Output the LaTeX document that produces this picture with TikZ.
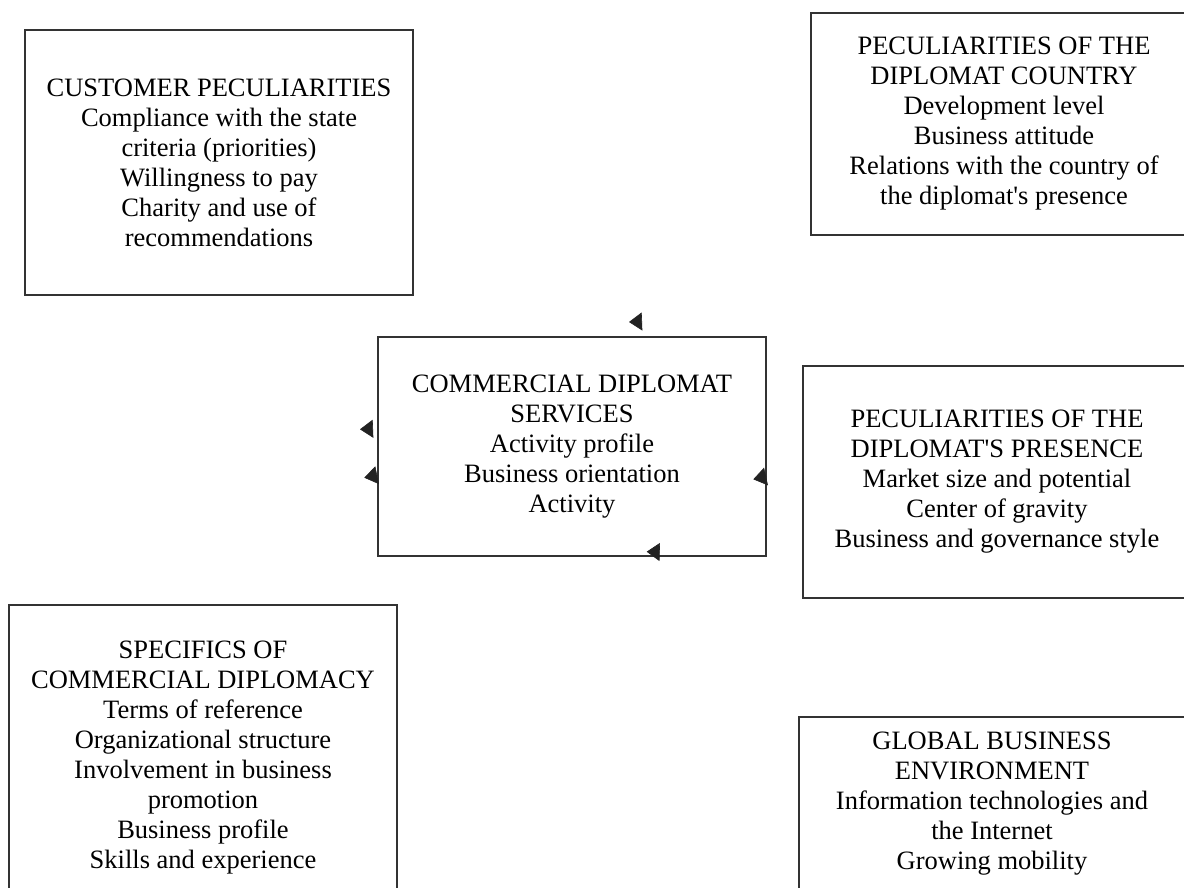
\documentclass[tikz,border=0pt]{standalone}
\usepackage{fontspec}
\setmainfont{Liberation Serif}[Ligatures=TeXOff]
\usetikzlibrary{arrows.meta}
\definecolor{edge}{HTML}{333333}
\definecolor{tipc}{HTML}{222222}
\tikzset{
  box/.style={draw=edge, line width=2pt, rectangle, align=center, inner sep=0pt,
    font=\fontsize{26.5}{30}\selectfont, text=black, minimum width=388pt},
  tipline/.style={draw=tipc, line width=0.6pt, -{Triangle[length=13pt,width=18pt]}, fill=tipc}
}
\begin{document}
\begin{tikzpicture}[x=1pt,y=-1pt]
\useasboundingbox (0,0) rectangle (1184,888);
\fill[white] (0,0) rectangle (1184,888);
\clip (0,0) rectangle (1184,888);
\node[box, minimum height=265pt] (cust) at (219,162.5) {CUSTOMER PECULIARITIES\\Compliance with the state\\criteria (priorities)\\Willingness to pay\\Charity and use of\\recommendations};
\node[box, minimum width=386pt, minimum height=222pt] (country) at (1004,124) {PECULIARITIES OF THE\\DIPLOMAT COUNTRY\\Development level\\Business attitude\\Relations with the country of\\the diplomat's presence};
\node[box, minimum height=219pt] (serv) at (572,446.5) {COMMERCIAL DIPLOMAT\\SERVICES\\Activity profile\\Business orientation\\Activity};
\node[box, minimum height=232pt] (pres) at (997,482) {PECULIARITIES OF THE\\DIPLOMAT'S PRESENCE\\Market size and potential\\Center of gravity\\Business and governance style};
\node[box, minimum height=306pt] (spec) at (203,758) {SPECIFICS OF\\COMMERCIAL DIPLOMACY\\Terms of reference\\Organizational structure\\Involvement in business\\promotion\\Business profile\\Skills and experience};
\node[box, minimum width=386pt, minimum height=174pt] (glob) at (992,804) {GLOBAL BUSINESS\\ENVIRONMENT\\Information technologies and\\the Internet\\Growing mobility};
\coordinate (a1s) at (642,321.5); \coordinate (a1e) at (629,322);
\coordinate (a2s) at (372.8,428.8); \coordinate (a2e) at (360,429.3);
\coordinate (a3s) at (377.8,475); \coordinate (a3e) at (364.3,477.7);
\coordinate (a4s) at (766,476.5); \coordinate (a4e) at (753.3,479.3);
\coordinate (a5s) at (658.6,552); \coordinate (a5e) at (646.7,551.7);
\draw[tipline] (a1s) -- (a1e);
\draw[tipline] (a2s) -- (a2e);
\draw[tipline] (a3s) -- (a3e);
\draw[tipline] (a4s) -- (a4e);
\draw[tipline] (a5s) -- (a5e);
\end{tikzpicture}
\end{document}
